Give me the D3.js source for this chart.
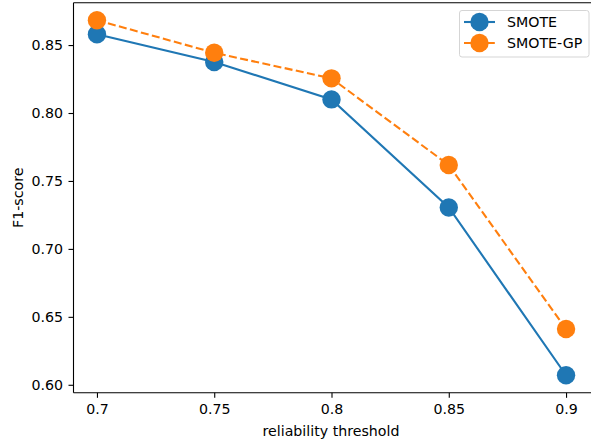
<!DOCTYPE html>
<html><head><meta charset="utf-8">
<script src="https://cdn.jsdelivr.net/npm/d3@7"></script>
<style>body{margin:0;background:#fff}svg{display:block;font-family:"DejaVu Sans",sans-serif}</style>
</head><body><svg id="c" width="591" height="443"></svg>
<script>
const thresholds = [0.7, 0.75, 0.8, 0.85, 0.9];
const smote = [0.858, 0.8375, 0.810, 0.7305, 0.607];
const smoteGP = [0.8683, 0.8443, 0.8255, 0.7617, 0.641];
const xTicks = [0.7, 0.75, 0.8, 0.85, 0.9];
const xTickLabels = ["0.7", "0.75", "0.8", "0.85", "0.9"];
const yTicks = [0.60, 0.65, 0.70, 0.75, 0.80, 0.85];
const yTickLabels = ["0.60", "0.65", "0.70", "0.75", "0.80", "0.85"];
const seriesNames = ["SMOTE", "SMOTE-GP"];
const colors = ["#1f77b4", "#ff7f0e"];

const FS = "14.2px";
const svg = d3.select("#c");
const L = 73.5, R = 589.5, T = 2.8, B = 392.8;
const x = d3.scaleLinear().domain([0.69, 0.91]).range([L, R]);
const y = d3.scaleLinear().domain([0.5941, 0.8811]).range([B, T]);

// axes
const xa = svg.append("g").attr("transform", `translate(0,${B})`)
  .call(d3.axisBottom(x).tickValues(xTicks).tickFormat((d,i)=>xTickLabels[i]).tickSize(5).tickPadding(6.5));
const ya = svg.append("g").attr("transform", `translate(${L},0)`)
  .call(d3.axisLeft(y).tickValues(yTicks).tickFormat((d,i)=>yTickLabels[i]).tickSize(5).tickPadding(5.5));
[xa, ya].forEach(g => {
  g.select(".domain").remove();
  g.selectAll("text").attr("font-size", FS).attr("fill", "#000").attr("font-family", "DejaVu Sans");
  g.selectAll("line").attr("stroke", "#000").attr("stroke-width", 1.1);
});
// spines
svg.append("line").attr("x1", L).attr("x2", 591).attr("y1", B).attr("y2", B).attr("stroke", "#000").attr("stroke-width", 1.1);
svg.append("line").attr("x1", L).attr("x2", 591).attr("y1", T).attr("y2", T).attr("stroke", "#000").attr("stroke-width", 1.1);
svg.append("line").attr("x1", L).attr("x2", L).attr("y1", T).attr("y2", B).attr("stroke", "#000").attr("stroke-width", 1.1);

// labels
svg.append("text").attr("x", 331).attr("y", 436).attr("text-anchor", "middle").attr("font-size", FS).text("reliability threshold");
svg.append("text").attr("transform", `translate(23,${(T+B)/2}) rotate(-90)`).attr("text-anchor", "middle").attr("font-size", FS).text("F1-score");

const line = d3.line().x((d,i)=>x(thresholds[i])).y(d=>y(d));
const all = [smote, smoteGP];
all.forEach((s, k) => {
  svg.append("path").attr("d", line(s)).attr("fill", "none").attr("stroke", colors[k])
    .attr("stroke-width", 2.1).attr("stroke-dasharray", k === 1 ? "8,3.4" : null);
});
all.forEach((s, k) => {
  svg.append("g").selectAll("circle").data(s).join("circle")
    .attr("cx", (d,i)=>x(thresholds[i])).attr("cy", d=>y(d)).attr("r", 9.2).attr("fill", colors[k]);
});

// legend
const lg = svg.append("g");
lg.append("rect").attr("x", 459.5).attr("y", 10.5).attr("width", 129.5).attr("height", 46.5).attr("rx", 2.5)
  .attr("fill", "#fff").attr("fill-opacity", 0.8).attr("stroke", "#d5d5d5").attr("stroke-width", 1);
seriesNames.forEach((n, k) => {
  const yy = 22 + k * 21;
  lg.append("line").attr("x1", 464).attr("x2", 495).attr("y1", yy).attr("y2", yy).attr("stroke", colors[k])
    .attr("stroke-width", 2.1).attr("stroke-dasharray", k === 1 ? "8,3.4" : null);
  lg.append("circle").attr("cx", 479.5).attr("cy", yy).attr("r", 9.2).attr("fill", colors[k]);
  lg.append("text").attr("x", 507).attr("y", yy + 5.2).attr("font-size", FS).text(n);
});
</script></body></html>
